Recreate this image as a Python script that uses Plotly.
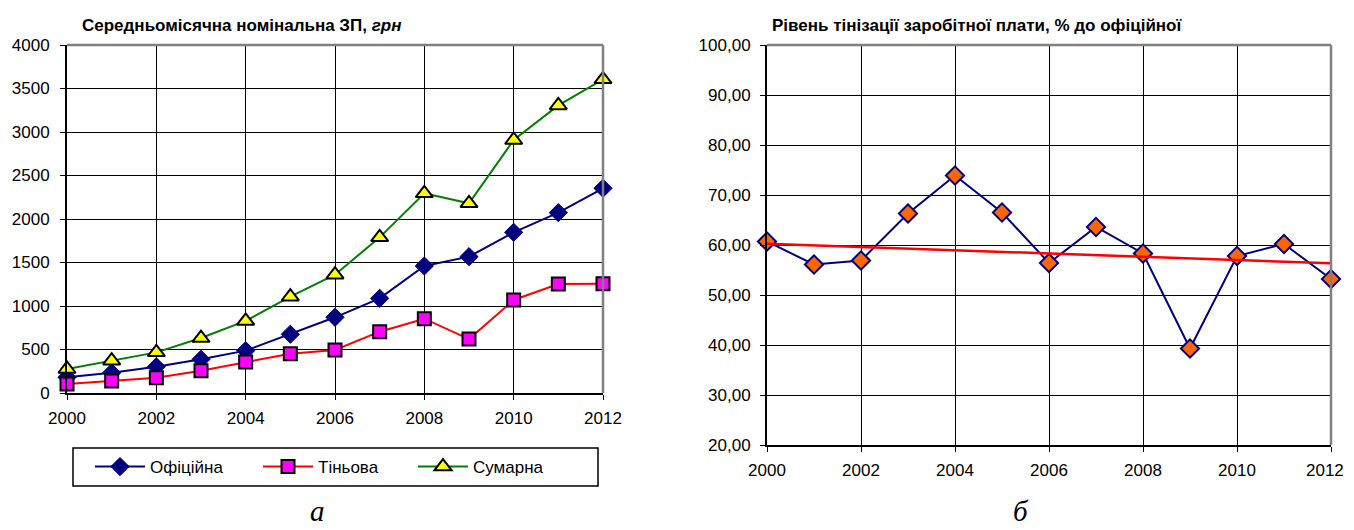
import plotly.graph_objects as go

years = list(range(2000, 2013))
official = [180, 233, 302, 387, 487, 675, 870, 1088, 1460, 1567, 1847, 2073, 2353]
shadow = [103, 138, 176, 257, 356, 452, 494, 705, 854, 620, 1069, 1253, 1257]
total = [276, 371, 467, 632, 828, 1107, 1360, 1789, 2295, 2180, 2908, 3306, 3605]

shadow_level = [60.7, 56.1, 56.9, 66.3, 73.9, 66.5, 56.4, 63.6, 58.3, 39.3, 57.8, 60.2, 53.2]
trend_years = [2000, 2012]
trend_values = [60.27, 56.33]

x_tick_years = [2000, 2002, 2004, 2006, 2008, 2010, 2012]
x_tick_labels = ["2000", "2002", "2004", "2006", "2008", "2010", "2012"]

left_title = "Середньомісячна номінальна ЗП, <i>грн</i>"
right_title = "Рівень тінізації заробітної плати, % до офіційної"
legend_names = ["Офіційна", "Тіньова", "Сумарна"]
panel_labels = ["а", "б"]

# page body has an 8px default margin: figure is placed at (8, 8)
OFF = 8
W, H = 1354 - OFF, 530 - OFF
FONT = "Liberation Sans, Arial, sans-serif"
FS = 17


def px_x(p):
    return (p - OFF) / W


def px_y(p):
    return 1 - (p - OFF) / H


fig = go.Figure()

fig.add_trace(go.Scatter(x=years, y=official, name=legend_names[0], mode="lines+markers",
                         line=dict(color="#000080", width=2),
                         marker=dict(symbol="diamond", size=14, color="#000080",
                                     line=dict(color="#000080", width=1)),
                         cliponaxis=False, xaxis="x", yaxis="y", legend="legend"))
fig.add_trace(go.Scatter(x=years, y=shadow, name=legend_names[1], mode="lines+markers",
                         line=dict(color="#FF0000", width=2),
                         marker=dict(symbol="square", size=13, color="#FF00FF",
                                     line=dict(color="#000000", width=2)),
                         cliponaxis=False, xaxis="x", yaxis="y", legend="legend2"))
fig.add_trace(go.Scatter(x=years, y=total, name=legend_names[2], mode="lines+markers",
                         line=dict(color="#008000", width=2),
                         marker=dict(symbol="triangle-up", size=15, color="#FFFF00",
                                     line=dict(color="#000000", width=2)),
                         cliponaxis=False, xaxis="x", yaxis="y", legend="legend3"))

fig.add_trace(go.Scatter(x=years, y=shadow_level, mode="lines+markers", showlegend=False,
                         line=dict(color="#000080", width=2),
                         marker=dict(symbol="diamond", size=14, color="#FF6600",
                                     line=dict(color="#000080", width=2)),
                         cliponaxis=False, xaxis="x2", yaxis="y2"))
fig.add_trace(go.Scatter(x=trend_years, y=trend_values, mode="lines", showlegend=False,
                         line=dict(color="#FF0000", width=2.5),
                         xaxis="x2", yaxis="y2"))

axis_common = dict(showgrid=True, gridcolor="#000000", gridwidth=1, zeroline=False,
                   ticks="outside", ticklen=5, tickcolor="#000000", tickwidth=1,
                   showline=True, linecolor="#000000", linewidth=2, automargin=False,
                   tickfont=dict(family=FONT, size=FS, color="#000000"))

legend_common = dict(orientation="h", yanchor="top", y=px_y(449), xanchor="left",
                     borderwidth=0, bgcolor="rgba(0,0,0,0)", itemwidth=50,
                     font=dict(family=FONT, size=FS, color="#000000"))

# right panel: last tick label drawn separately so it is not cut at the page edge
right_ticktext = x_tick_labels[:-1] + [""]

fig.update_layout(
    width=W, height=H,
    margin=dict(l=0, r=0, t=0, b=0),
    paper_bgcolor="white", plot_bgcolor="white",
    separators=", ",
    font=dict(family=FONT, color="#000000"),
    xaxis=dict(domain=[px_x(67), px_x(603)], range=[2000, 2012],
               tickvals=x_tick_years, ticktext=x_tick_labels,
               anchor="y", ticklabelstandoff=4, **axis_common),
    yaxis=dict(domain=[px_y(393), px_y(45)], range=[0, 4000], dtick=500,
               anchor="x", ticklabelstandoff=7, **axis_common),
    xaxis2=dict(domain=[px_x(767), px_x(1331)], range=[2000, 2012],
                tickvals=x_tick_years, ticktext=right_ticktext,
                anchor="y2", ticklabelstandoff=4, **axis_common),
    yaxis2=dict(domain=[px_y(445), px_y(45)], range=[20, 100], dtick=10,
                tickformat=".2f", anchor="x2", ticklabelstandoff=6, **axis_common),
    legend=dict(x=px_x(90), **legend_common),
    legend2=dict(x=px_x(258), **legend_common),
    legend3=dict(x=px_x(413), **legend_common),
    showlegend=True,
)

fig.add_annotation(text=x_tick_labels[-1], xref="x2", yref="y2 domain",
                   x=x_tick_years[-1], y=0, xanchor="right", yanchor="top",
                   xshift=15, yshift=-14, showarrow=False,
                   font=dict(family=FONT, size=FS, color="#000000"))

# legend frame
fig.add_shape(type="rect", xref="paper", yref="paper",
              x0=px_x(73), x1=px_x(598), y0=px_y(486), y1=px_y(448),
              line=dict(color="#000000", width=1.5), fillcolor="rgba(0,0,0,0)")

# gray frame on top/right of plot areas
for xr, yr in (("x domain", "y domain"), ("x2 domain", "y2 domain")):
    fig.add_shape(type="line", xref=xr, yref=yr, x0=0, x1=1, y0=1, y1=1,
                  line=dict(color="#808080", width=2.5))
    fig.add_shape(type="line", xref=xr, yref=yr, x0=1, x1=1, y0=0, y1=1,
                  line=dict(color="#808080", width=2.5))

fig.add_annotation(text="<b>" + left_title + "</b>", xref="paper", yref="paper",
                   x=px_x(80), y=px_y(25), xanchor="left", yanchor="middle", showarrow=False,
                   font=dict(family=FONT, size=FS, color="#000000"))
fig.add_annotation(text="<b>" + right_title + "</b>", xref="paper", yref="paper",
                   x=px_x(770), y=px_y(25), xanchor="left", yanchor="middle", showarrow=False,
                   font=dict(family=FONT, size=FS, color="#000000"))
for lbl, cx in zip(panel_labels, (317, 1021)):
    fig.add_annotation(text="<i>" + lbl + "</i>", xref="paper", yref="paper",
                       x=px_x(cx), y=px_y(511), xanchor="center", yanchor="middle",
                       showarrow=False,
                       font=dict(family="Liberation Serif, Times New Roman, serif", size=29,
                                 color="#000000"))

fig.write_html("out.html")
